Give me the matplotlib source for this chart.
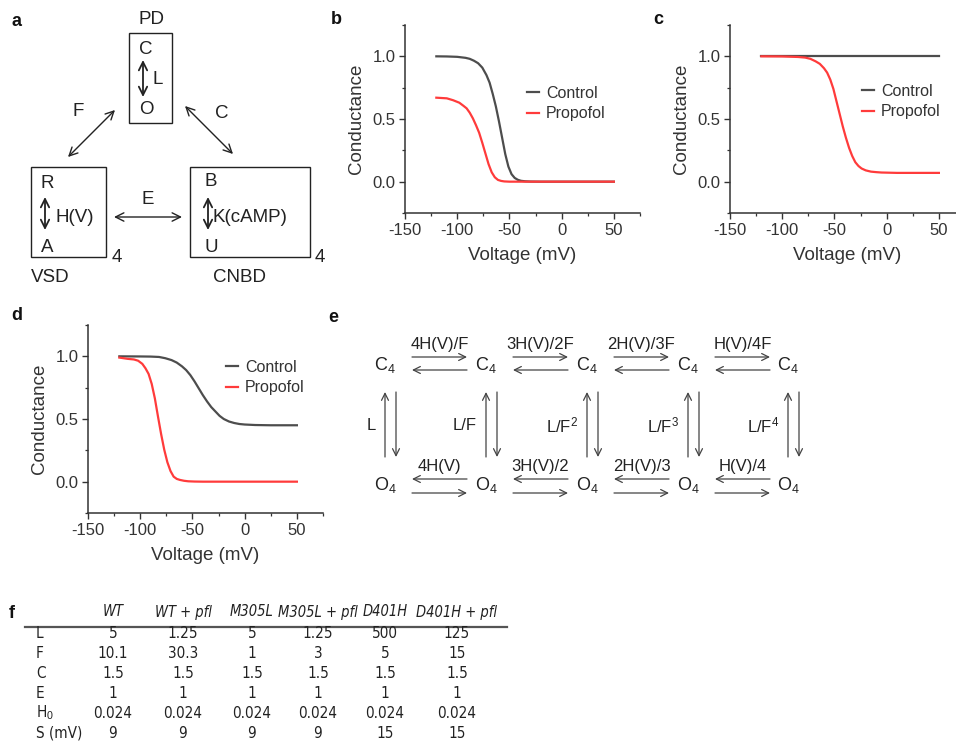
import matplotlib
matplotlib.use("Agg")
import matplotlib.pyplot as plt
from matplotlib.patches import Rectangle
from matplotlib.ticker import MultipleLocator

plt.rcParams['font.family'] = ['Liberation Sans', 'DejaVu Sans']
plt.rcParams['mathtext.fontset'] = 'custom'
plt.rcParams['mathtext.rm'] = 'Liberation Sans'
plt.rcParams['mathtext.it'] = 'Liberation Sans:italic'
plt.rcParams['axes.unicode_minus'] = False

# ---- data (conductance vs voltage) ----
b_ctrl_v = [-120, -110, -100, -92, -88, -84, -80, -76, -72, -69, -66, -63, -60, -57, -54, -51, -48, -45, -42, -39, -35, -30, -20, 0, 25, 50]
b_ctrl_g = [1.0, 0.999, 0.996, 0.988, 0.98, 0.965, 0.945, 0.91, 0.85, 0.79, 0.70, 0.60, 0.48, 0.35, 0.22, 0.12, 0.06, 0.03, 0.015, 0.007, 0.003, 0.001, 0, 0, 0, 0]
b_prop_v = [-120, -110, -104, -98, -94, -91, -88, -85, -82, -79, -76, -73, -70, -67, -64, -61, -58, -55, -50, -40, 0, 50]
b_prop_g = [0.67, 0.665, 0.65, 0.63, 0.605, 0.585, 0.55, 0.505, 0.45, 0.39, 0.31, 0.225, 0.14, 0.075, 0.035, 0.014, 0.006, 0.002, 0, 0, 0, 0]

c_ctrl_v = [-120, 50]
c_ctrl_g = [1.0, 1.0]
c_prop_v = [-120, -100, -85, -78, -73, -68, -64, -60, -57, -54, -51, -48, -45, -42, -39, -36, -33, -30, -27, -24, -20, -15, -10, -5, 0, 10, 25, 50]
c_prop_g = [1.0, 0.999, 0.995, 0.99, 0.98, 0.96, 0.94, 0.905, 0.87, 0.815, 0.74, 0.64, 0.54, 0.44, 0.35, 0.27, 0.205, 0.155, 0.125, 0.105, 0.09, 0.08, 0.076, 0.073, 0.072, 0.07, 0.07, 0.07]

d_ctrl_v = [-120, -100, -90, -82, -76, -70, -65, -60, -56, -52, -48, -44, -40, -36, -32, -28, -24, -20, -15, -10, -5, 0, 10, 25, 50]
d_ctrl_g = [1.0, 0.999, 0.998, 0.995, 0.985, 0.97, 0.95, 0.92, 0.89, 0.85, 0.80, 0.745, 0.69, 0.64, 0.595, 0.56, 0.525, 0.5, 0.48, 0.468, 0.46, 0.456, 0.452, 0.45, 0.45]
d_prop_v = [-120, -112, -106, -102, -98, -95, -92, -89, -86, -83, -80, -77, -74, -71, -68, -65, -62, -58, -54, -48, -40, 0, 50]
d_prop_g = [0.99, 0.98, 0.975, 0.965, 0.94, 0.905, 0.86, 0.78, 0.665, 0.52, 0.38, 0.255, 0.155, 0.085, 0.04, 0.022, 0.014, 0.007, 0.003, 0.001, 0, 0, 0]

# ---- table f ----
tbl_cols = ['WT', 'WT + pfl', 'M305L', 'M305L + pfl', 'D401H', 'D401H + pfl']
tbl_rows = ['L', 'F', 'C', 'E', r'H$_0$', 'S (mV)']
tbl_vals = [
    ['5', '1.25', '5', '1.25', '500', '125'],
    ['10.1', '30.3', '1', '3', '5', '15'],
    ['1.5', '1.5', '1.5', '1.5', '1.5', '1.5'],
    ['1', '1', '1', '1', '1', '1'],
    ['0.024', '0.024', '0.024', '0.024', '0.024', '0.024'],
    ['9', '9', '9', '9', '15', '15'],
]

# ---- scheme e labels ----
e_top = ['4H(V)/F', '3H(V)/2F', '2H(V)/3F', 'H(V)/4F']
e_bot = ['4H(V)', '3H(V)/2', '2H(V)/3', 'H(V)/4']
e_side = ['L', 'L/F', r'L/F$^2$', r'L/F$^3$', r'L/F$^4$']

W, H = 956, 744
fig = plt.figure(figsize=(W / 100, H / 100), dpi=100)

# overlay in pixel coordinates for diagrams, labels and table
ov = fig.add_axes([0, 0, 1, 1])
ov.set_xlim(0, W)
ov.set_ylim(H, 0)
ov.axis('off')

INK = '#333333'
CTRL = '#4d4d4d'
PROP = '#ff3b3b'


def px_axes(left, top, width, height):
    return fig.add_axes([left / W, 1 - (top + height) / H, width / W, height / H])


def style_axes(ax):
    ax.set_xlim(-150, 75)
    ax.set_ylim(-0.25, 1.25)
    for s in ['top', 'right']:
        ax.spines[s].set_visible(False)
    for s in ['left', 'bottom']:
        ax.spines[s].set_color(INK)
        ax.spines[s].set_linewidth(1.1)
    ax.set_xticks([-150, -100, -50, 0, 50])
    ax.set_yticks([0.0, 0.5, 1.0])
    ax.set_yticklabels(['0.0', '0.5', '1.0'])
    ax.xaxis.set_minor_locator(MultipleLocator(25))
    ax.yaxis.set_minor_locator(MultipleLocator(0.25))
    ax.tick_params(which='major', direction='out', length=4, width=1.0, color=INK,
                   labelsize=12, labelcolor=INK, pad=3)
    ax.tick_params(which='minor', direction='out', length=2.5, width=0.9, color=INK)
    ax.set_xlabel('Voltage (mV)', fontsize=13.5, color=INK, labelpad=7)
    ax.set_ylabel('Conductance', fontsize=13.5, color=INK, labelpad=5)
    ax.patch.set_alpha(0)


def curves(ax, cv, cg, pv, pg, anchor):
    ax.plot(cv, cg, color=CTRL, lw=1.6, label='Control', solid_joinstyle='round')
    ax.plot(pv, pg, color=PROP, lw=1.6, label='Propofol', solid_joinstyle='round')
    ax.legend(loc='upper left', bbox_to_anchor=anchor, bbox_transform=ov.transData,
              frameon=False, fontsize=11.5, handlelength=0.75, handletextpad=0.45,
              labelspacing=0.33, borderpad=0, borderaxespad=0, labelcolor=INK)


ax_b = px_axes(405, 25, 235, 188)
style_axes(ax_b)
curves(ax_b, b_ctrl_v, b_ctrl_g, b_prop_v, b_prop_g, (527, 86))

ax_c = px_axes(730, 25, 235, 188)
style_axes(ax_c)
curves(ax_c, c_ctrl_v, c_ctrl_g, c_prop_v, c_prop_g, (862, 84))

ax_d = px_axes(88, 325, 235, 188)
style_axes(ax_d)
curves(ax_d, d_ctrl_v, d_ctrl_g, d_prop_v, d_prop_g, (226, 360))

# panel letters
for lab, x, y in [('a', 17, 22), ('b', 336, 20), ('c', 658, 20), ('d', 17, 315), ('e', 333, 317), ('f', 12, 613)]:
    ov.text(x, y, lab, fontsize=13, fontweight='bold', ha='center', va='center', color='#111111')


def arrow(x1, y1, x2, y2, style='<->', color='#222222', lw=1.0, hl=0.6, hw=0.3):
    ov.annotate('', xy=(x2, y2), xytext=(x1, y1),
                arrowprops=dict(arrowstyle=f'{style},head_length={hl},head_width={hw}',
                                color=color, lw=lw, shrinkA=0, shrinkB=0))


def t(x, y, s, size=13.5, ha='center', **kw):
    ov.text(x, y, s, fontsize=size, ha=ha, va='center', color='#222222', **kw)


# ---- panel a ----
t(152, 20, 'PD')
ov.add_patch(Rectangle((129, 33), 43, 90, fill=False, ec='#222222', lw=1.0))
t(146, 50, 'C')
arrow(143, 60, 143, 97, lw=1.3)
t(158, 80, 'L')
t(146, 110, 'O')
t(78, 112, 'F')
arrow(68, 157, 115, 110)
t(222, 113, 'C')
arrow(185, 106, 233, 154)

ov.add_patch(Rectangle((31, 167), 75, 90, fill=False, ec='#222222', lw=1.0))
t(47, 183, 'R')
arrow(45, 197, 45, 230, lw=1.3)
t(56, 217, 'H(V)', ha='left')
t(47, 247, 'A')
t(117, 257, '4')
t(50, 277, 'VSD')
t(148, 200, 'E')
arrow(114, 217, 182, 217)

ov.add_patch(Rectangle((190, 167), 120, 90, fill=False, ec='#222222', lw=1.0))
t(211, 182, 'B')
arrow(208, 197, 208, 230, lw=1.3)
t(213, 217, 'K(cAMP)', ha='left')
t(211, 247, 'U')
t(320, 257, '4')
t(240, 277, 'CNBD')

# ---- panel e ----
ex = [385, 486, 587, 688, 788]
GR = '#444444'
for i, x in enumerate(ex):
    t(x, 365, r'C$_4$', size=13)
    t(x, 485, r'O$_4$', size=13)
    arrow(x, 457, x, 392, style='->', color=GR, lw=0.9, hl=0.5, hw=0.25)
    arrow(x + 11, 392, x + 11, 457, style='->', color=GR, lw=0.9, hl=0.5, hw=0.25)
    t(x - 9, 425, e_side[i], size=12, ha='right')
for i in range(4):
    x1, x2 = ex[i] + 27, ex[i] + 82
    xm = (x1 + x2) / 2
    arrow(x1, 357, x2, 357, style='->', color=GR, lw=0.9, hl=0.5, hw=0.25)
    arrow(x2, 370, x1, 370, style='->', color=GR, lw=0.9, hl=0.5, hw=0.25)
    t(xm, 344, e_top[i], size=12)
    arrow(x2, 479, x1, 479, style='->', color=GR, lw=0.9, hl=0.5, hw=0.25)
    arrow(x1, 493, x2, 493, style='->', color=GR, lw=0.9, hl=0.5, hw=0.25)
    t(xm, 466, e_bot[i], size=12)

# ---- panel f table ----
TF = dict(family='DejaVu Sans', fontstretch='condensed', color='#222222', va='center')
col_x = [113, 183, 252, 318, 385, 457]
for x, c in zip(col_x, tbl_cols):
    ov.text(x, 612, c, fontsize=10.5, ha='center', style='italic', **TF)
ov.plot([25, 507], [627, 627], color='#555555', lw=1.6)
row_y = [633, 653, 673, 693, 713, 733]
for r, y in enumerate(row_y):
    ov.text(36, y, tbl_rows[r], fontsize=11, ha='left', **TF)
    for x, v in zip(col_x, tbl_vals[r]):
        ov.text(x, y, v, fontsize=11, ha='center', **TF)

fig.savefig('out.png', dpi=100)
